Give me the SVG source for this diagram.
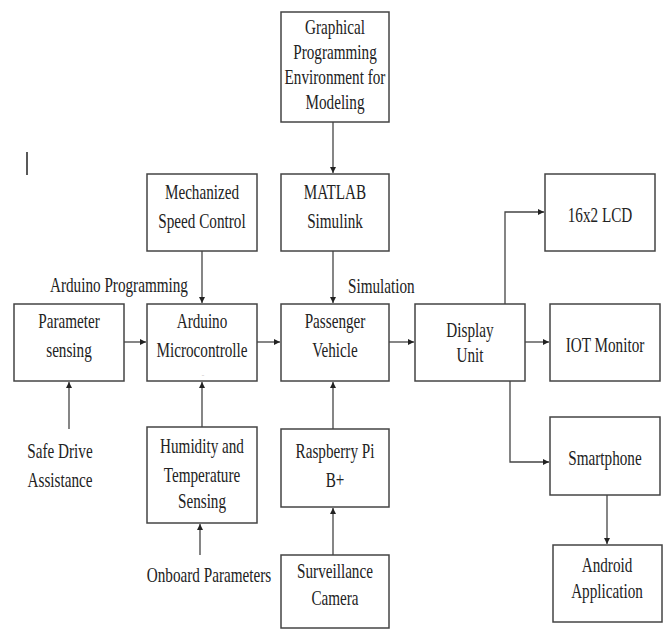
<svg xmlns="http://www.w3.org/2000/svg" width="667" height="630" viewBox="0 0 667 630">
<defs>
<marker id="ah" viewBox="0 0 8 8" refX="8" refY="4" markerWidth="6" markerHeight="6" markerUnits="userSpaceOnUse" orient="auto">
<path d="M0,0 L8,4 L0,8 z" fill="#222"/>
</marker>
<style>
.box{fill:#fff;stroke:#444;stroke-width:1.5}
.t{font-family:"Liberation Serif","Times New Roman",serif;font-size:15.2px;fill:#222;text-anchor:middle}
.tl{font-family:"Liberation Serif","Times New Roman",serif;font-size:15.2px;fill:#222;text-anchor:start}
.c{fill:none;stroke:#444;stroke-width:1.3;marker-end:url(#ah)}
</style>
</defs>
<rect width="667" height="630" fill="#fff"/>
<line x1="27" y1="152" x2="27" y2="175" stroke="#222" stroke-width="1.5"/>

<g id="connectors">
<path class="c" d="M333,122 V173"/>
<path class="c" d="M202,251 V303"/>
<path class="c" d="M333,251 V303"/>
<path class="c" d="M124,342 H146"/>
<path class="c" d="M257,342 H280"/>
<path class="c" d="M389,342 H414"/>
<path class="c" d="M525,342 H549"/>
<path class="c" d="M505,304 V212 H544"/>
<path class="c" d="M510,381 V462 H549"/>
<path class="c" d="M607,495 V544"/>
<path class="c" d="M69,429 V382"/>
<path class="c" d="M202,427 V382"/>
<path class="c" d="M333,429 V382"/>
<path class="c" d="M200,555 V524"/>
<path class="c" d="M333,555 V508"/>
</g>

<g id="graphical">
<rect class="box" x="281" y="12" width="108" height="110"/>
<g transform="scale(1,1.316)">
<text class="t" x="335" y="25.84">Graphical</text>
<text class="t" x="335" y="44.83">Programming</text>
<text class="t" x="335" y="63.83">Environment for</text>
<text class="t" x="335" y="82.83">Modeling</text>
</g>
</g>

<g id="mechanized">
<rect class="box" x="147" y="174" width="110" height="77"/>
<g transform="scale(1,1.316)">
<text class="t" x="202" y="151.22">Mechanized</text>
<text class="t" x="202" y="173.25">Speed Control</text>
</g>
</g>

<g id="matlab">
<rect class="box" x="281" y="174" width="108" height="77"/>
<g transform="scale(1,1.316)">
<text class="t" x="335" y="151.22">MATLAB</text>
<text class="t" x="335" y="173.25">Simulink</text>
</g>
</g>

<g id="lcd">
<rect class="box" x="545" y="174" width="110" height="77"/>
<g transform="scale(1,1.316)">
<text class="t" x="600" y="168.69">16x2 LCD</text>
</g>
</g>

<g id="label-arduino-programming">
<g transform="scale(1,1.316)">
<text class="tl" x="50" y="221.88">Arduino Programming</text>
</g>
</g>

<g id="label-simulation">
<g transform="scale(1,1.316)">
<text class="tl" x="348" y="222.64">Simulation</text>
</g>
</g>

<g id="parameter">
<rect class="box" x="14" y="304" width="110" height="77"/>
<g transform="scale(1,1.316)">
<text class="t" x="69" y="249.24">Parameter</text>
<text class="t" x="69" y="271.28">sensing</text>
</g>
</g>

<g id="arduino">
<rect class="box" x="147" y="304" width="110" height="77"/>
<g transform="scale(1,1.316)">
<text class="t" x="202" y="249.24">Arduino</text>
<text class="t" x="202" y="271.28">Microcontrolle</text>
</g>
<text x="203" y="376" font-family="Liberation Serif, serif" font-size="5" fill="#666" text-anchor="middle">..</text>
</g>

<g id="passenger">
<rect class="box" x="281" y="304" width="108" height="77"/>
<g transform="scale(1,1.316)">
<text class="t" x="335" y="249.24">Passenger</text>
<text class="t" x="335" y="271.28">Vehicle</text>
</g>
</g>

<g id="display">
<rect class="box" x="415" y="304" width="110" height="77"/>
<g transform="scale(1,1.316)">
<text class="t" x="470" y="256.08">Display</text>
<text class="t" x="470" y="275.08">Unit</text>
</g>
</g>

<g id="iot">
<rect class="box" x="550" y="304" width="110" height="77"/>
<g transform="scale(1,1.316)">
<text class="t" x="605" y="267.48">IOT Monitor</text>
</g>
</g>

<g id="safe-drive">
<g transform="scale(1,1.316)">
<text class="t" x="60" y="348.02">Safe Drive</text>
<text class="t" x="60" y="370.06">Assistance</text>
</g>
</g>

<g id="humidity">
<rect class="box" x="147" y="427" width="110" height="96"/>
<g transform="scale(1,1.316)">
<text class="t" x="202" y="344.22">Humidity and</text>
<text class="t" x="202" y="366.26">Temperature</text>
<text class="t" x="202" y="386.02">Sensing</text>
</g>
</g>

<g id="raspberry">
<rect class="box" x="281" y="429" width="108" height="78"/>
<g transform="scale(1,1.316)">
<text class="t" x="335" y="348.02">Raspberry Pi</text>
<text class="t" x="335" y="370.06">B+</text>
</g>
</g>

<g id="smartphone">
<rect class="box" x="550" y="417" width="110" height="78"/>
<g transform="scale(1,1.316)">
<text class="t" x="605" y="353.34">Smartphone</text>
</g>
</g>

<g id="onboard">
<g transform="scale(1,1.316)">
<text class="t" x="209" y="442.25">Onboard Parameters</text>
</g>
</g>

<g id="surveillance">
<rect class="box" x="281" y="555" width="108" height="73"/>
<g transform="scale(1,1.316)">
<text class="t" x="335" y="439.21">Surveillance</text>
<text class="t" x="335" y="459.73">Camera</text>
</g>
</g>

<g id="android">
<rect class="box" x="553" y="545" width="109" height="77"/>
<g transform="scale(1,1.316)">
<text class="t" x="607" y="434.65">Android</text>
<text class="t" x="607" y="454.41">Application</text>
</g>
</g>
</svg>
